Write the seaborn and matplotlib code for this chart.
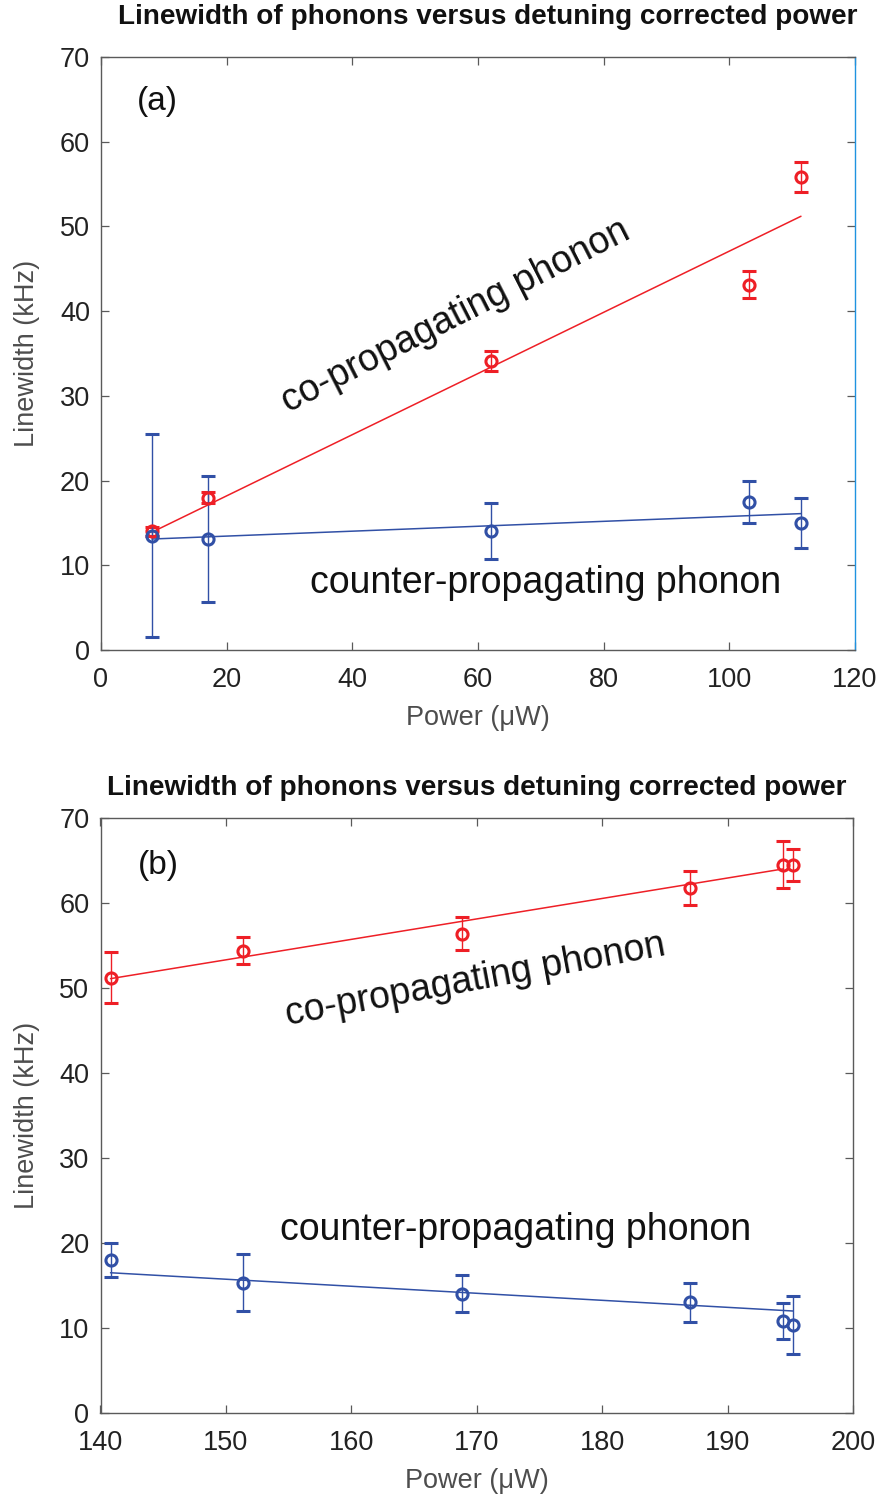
import numpy as np
import pandas as pd
import matplotlib
matplotlib.use("Agg")
import matplotlib.pyplot as plt
import seaborn as sns

# ---------------- data ----------------
title_text = "Linewidth of phonons versus detuning corrected power"
xlabel_text = "Power (\u03bcW)"
ylabel_text = "Linewidth (kHz)"

# panel (a)
a_power = [8.1, 17.0, 62.1, 103.1, 111.4]
a_co = [14.0, 18.0, 34.1, 43.1, 55.8]
a_co_err = [0.5, 0.7, 1.2, 1.6, 1.75]
a_counter = [13.5, 13.1, 14.1, 17.5, 15.0]
a_counter_err = [12.0, 7.4, 3.3, 2.5, 3.0]
a_co_fit_x = [8.1, 111.4]
a_co_fit_y = [13.9, 51.2]
a_counter_fit_x = [8.1, 111.4]
a_counter_fit_y = [13.1, 16.1]
a_xticks = [0, 20, 40, 60, 80, 100, 120]
a_yticks = [0, 10, 20, 30, 40, 50, 60, 70]

# panel (b)
b_power = [140.8, 151.4, 168.8, 187.0, 194.4, 195.2]
b_co = [51.2, 54.4, 56.4, 61.8, 64.5, 64.5]
b_co_err = [3.0, 1.6, 1.9, 2.0, 2.75, 1.9]
b_counter = [18.0, 15.3, 14.05, 13.05, 10.8, 10.4]
b_counter_err = [2.0, 3.35, 2.2, 2.3, 2.15, 3.4]
b_co_fit_x = [140.8, 194.4]
b_co_fit_y = [51.1, 64.0]
b_counter_fit_x = [140.8, 195.2]
b_counter_fit_y = [16.5, 12.0]
b_xticks = [140, 150, 160, 170, 180, 190, 200]
b_yticks = [0, 10, 20, 30, 40, 50, 60, 70]

# ---------------- style ----------------
sns.set_theme(style="ticks")
plt.rcParams["font.family"] = ["Liberation Sans", "DejaVu Sans"]

RED = "#ee1f26"
BLUE = "#3150a6"
SPINE = "#5a5a5a"
TICKLAB = "#222222"
LABCOL = "#4d4d4d"

fig = plt.figure(figsize=(8.83, 15.0), dpi=100)
axA = fig.add_axes([101 / 883, 1 - 650 / 1500, 754 / 883, 593 / 1500])
axB = fig.add_axes([100.5 / 883, 1 - 1413 / 1500, 752.5 / 883, 595 / 1500])


def draw_panel(ax, px, co, co_err, ct, ct_err, cfx, cfy, tfx, tfy, xlim, xticks, yticks):
    sns.lineplot(x=cfx, y=cfy, ax=ax, color=RED, lw=1.1, zorder=2)
    sns.lineplot(x=tfx, y=tfy, ax=ax, color=BLUE, lw=1.1, zorder=2)
    ax.errorbar(px, co, yerr=co_err, fmt="o", color=RED, mfc="none", mec=RED,
                ms=8, mew=2.2, elinewidth=1.0, capsize=4.8, capthick=1.0, zorder=3)
    ax.errorbar(px, ct, yerr=ct_err, fmt="o", color=BLUE, mfc="none", mec=BLUE,
                ms=8, mew=2.2, elinewidth=1.0, capsize=4.8, capthick=1.0, zorder=3)
    ax.set_xlim(*xlim)
    ax.set_ylim(0, 70)
    ax.set_xticks(xticks)
    ax.set_yticks(yticks)
    ax.tick_params(direction="in", length=6, width=0.9, color=SPINE,
                   top=True, right=True, labelsize=19.5, labelcolor=TICKLAB)
    ax.tick_params(axis="x", pad=12)
    ax.tick_params(axis="y", pad=8)
    for s in ax.spines.values():
        s.set_visible(True)
        s.set_color(SPINE)
        s.set_linewidth(1.0)
    ax.set_xlabel(xlabel_text, fontsize=19.5, color=LABCOL, labelpad=9)
    ax.set_ylabel(ylabel_text, fontsize=19.5, color=LABCOL, labelpad=14)
    ax.grid(False)


draw_panel(axA, a_power, a_co, a_co_err, a_counter, a_counter_err,
           a_co_fit_x, a_co_fit_y, a_counter_fit_x, a_counter_fit_y,
           (0, 120), a_xticks, a_yticks)
draw_panel(axB, b_power, b_co, b_co_err, b_counter, b_counter_err,
           b_co_fit_x, b_co_fit_y, b_counter_fit_x, b_counter_fit_y,
           (140, 200), b_xticks, b_yticks)

axA.spines["right"].set_color("#1f93e0")

ANN = 27
axA.text(8.9, 64.8, "(a)", fontsize=24, ha="center", va="center", color="#111111")
axA.text(56.5, 39.4, "co-propagating phonon", fontsize=ANN, rotation=27,
         rotation_mode="anchor", ha="center", va="center", color="#111111")
axA.text(70.7, 6.74, "counter-propagating phonon", fontsize=ANN,
         ha="center", va="baseline", color="#111111")

axB.text(144.6, 64.4, "(b)", fontsize=24, ha="center", va="center", color="#111111")
axB.text(169.9, 50.9, "co-propagating phonon", fontsize=ANN, rotation=10.5,
         rotation_mode="anchor", ha="center", va="center", color="#111111")
axB.text(173.1, 20.4, "counter-propagating phonon", fontsize=ANN,
         ha="center", va="baseline", color="#111111")

tfont = ["Liberation Sans", "DejaVu Sans"]
fig.text(487.5 / 883, 1 - 17 / 1500, title_text, fontsize=20.1, fontweight="bold",
         family=tfont, ha="center", va="center", color="#111111")
fig.text(476.5 / 883, 1 - 788 / 1500, title_text, fontsize=20.1, fontweight="bold",
         family=tfont, ha="center", va="center", color="#111111")

fig.savefig("out.png", dpi=100)
